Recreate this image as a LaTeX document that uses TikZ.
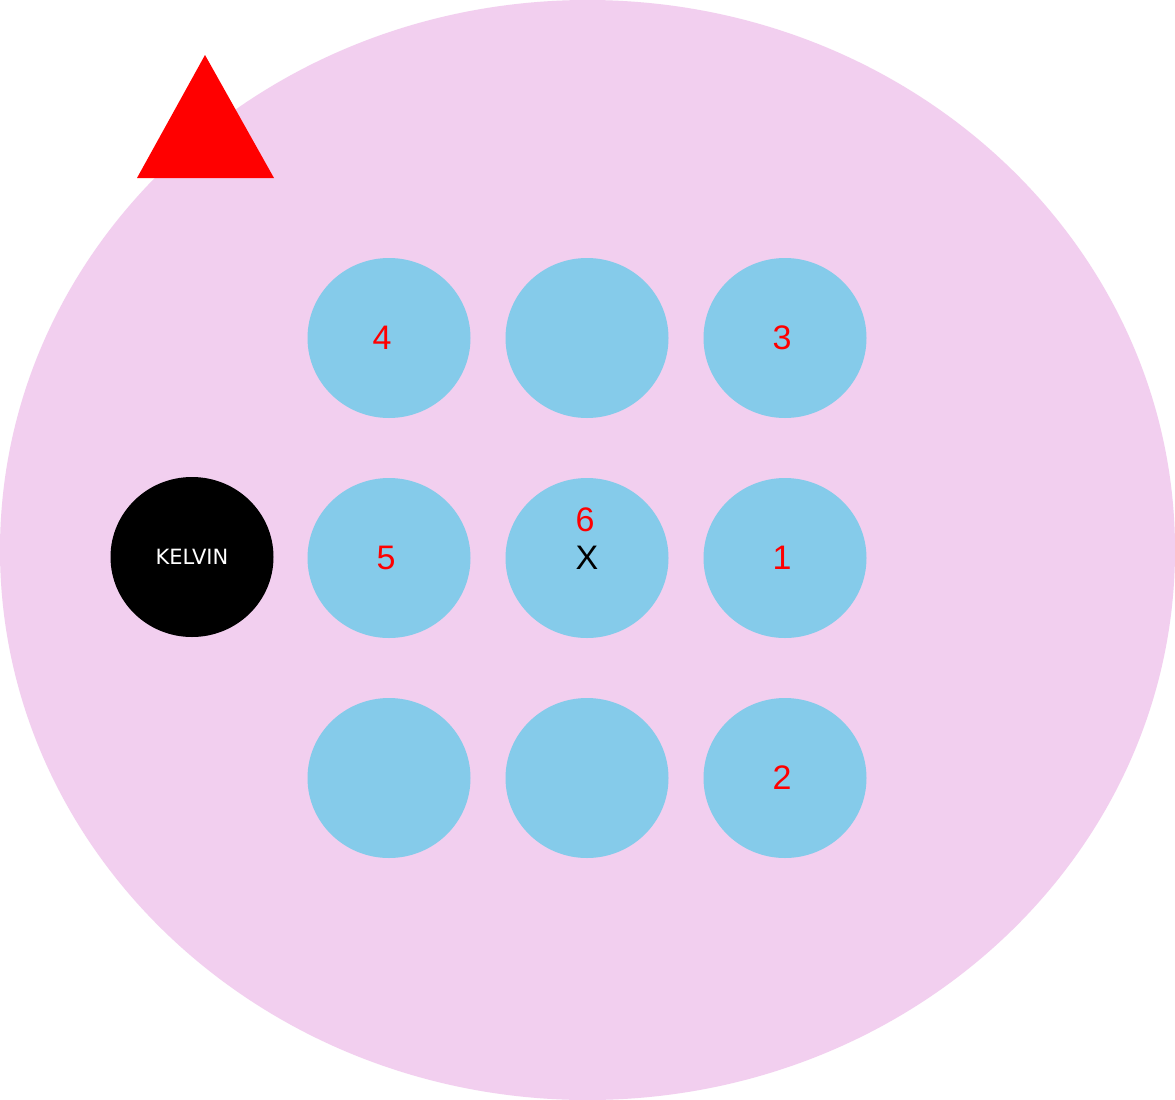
\documentclass[tikz,border=0pt]{standalone}
\usepackage{fontspec}
\setmainfont{Liberation Sans}
\newfontfamily\kelvinfont{DejaVu Sans}
\usetikzlibrary{shapes.geometric, positioning}
\definecolor{roompink}{HTML}{F2CFEF}
\definecolor{seatblue}{HTML}{85CBEA}
\tikzstyle{seat} = [ellipse, fill=seatblue, minimum width=163pt, minimum height=160pt, inner sep=0pt]
\tikzstyle{host} = [ellipse, fill=black, minimum width=163pt, minimum height=160pt, inner sep=0pt, text=white, font=\kelvinfont\fontsize{21}{21}\selectfont]
\tikzstyle{seatnum} = [inner sep=0pt, text=red, font=\fontsize{34}{34}\selectfont]
\tikzstyle{seatmark} = [inner sep=0pt, text=black, font=\fontsize{34}{34}\selectfont]

\begin{document}
\begin{tikzpicture}[x=1pt, y=-1pt, node distance=198pt]
\useasboundingbox (0,0) rectangle (1175,1100);

\fill [white] (0,0) rectangle (1175,1100);
\fill [roompink] (587.5,550) ellipse [x radius=587.5pt, y radius=550pt];
\fill [red] (205,55) -- (274,178) -- (137,178) -- cycle;

\node (s11) [seat] at (389,338) {};
\node (s12) [seat, right of=s11] {};
\node (s13) [seat, right of=s12] {};
\node (s21) [seat, below of=s11, yshift=-22pt] {};
\node (s22) [seat, right of=s21] {};
\node (s23) [seat, right of=s22] {};
\node (s31) [seat, below of=s21, yshift=-22pt] {};
\node (s32) [seat, right of=s31] {};
\node (s33) [seat, right of=s32] {};
\node (kelvin) [host, left of=s21, xshift=1pt, yshift=1pt] {KELVIN};

\node (n4) [seatnum, xshift=-7pt] at (s11) {4};
\node (n3) [seatnum, xshift=-3pt] at (s13) {3};
\node (n5) [seatnum, xshift=-3pt] at (s21) {5};
\node (n6) [seatnum, xshift=-2pt, yshift=38pt] at (s22) {6};
\node (x) [seatmark] at (s22) {X};
\node (n1) [seatnum, xshift=-3pt] at (s23) {1};
\node (n2) [seatnum, xshift=-3pt] at (s33) {2};

\end{tikzpicture}
\end{document}
